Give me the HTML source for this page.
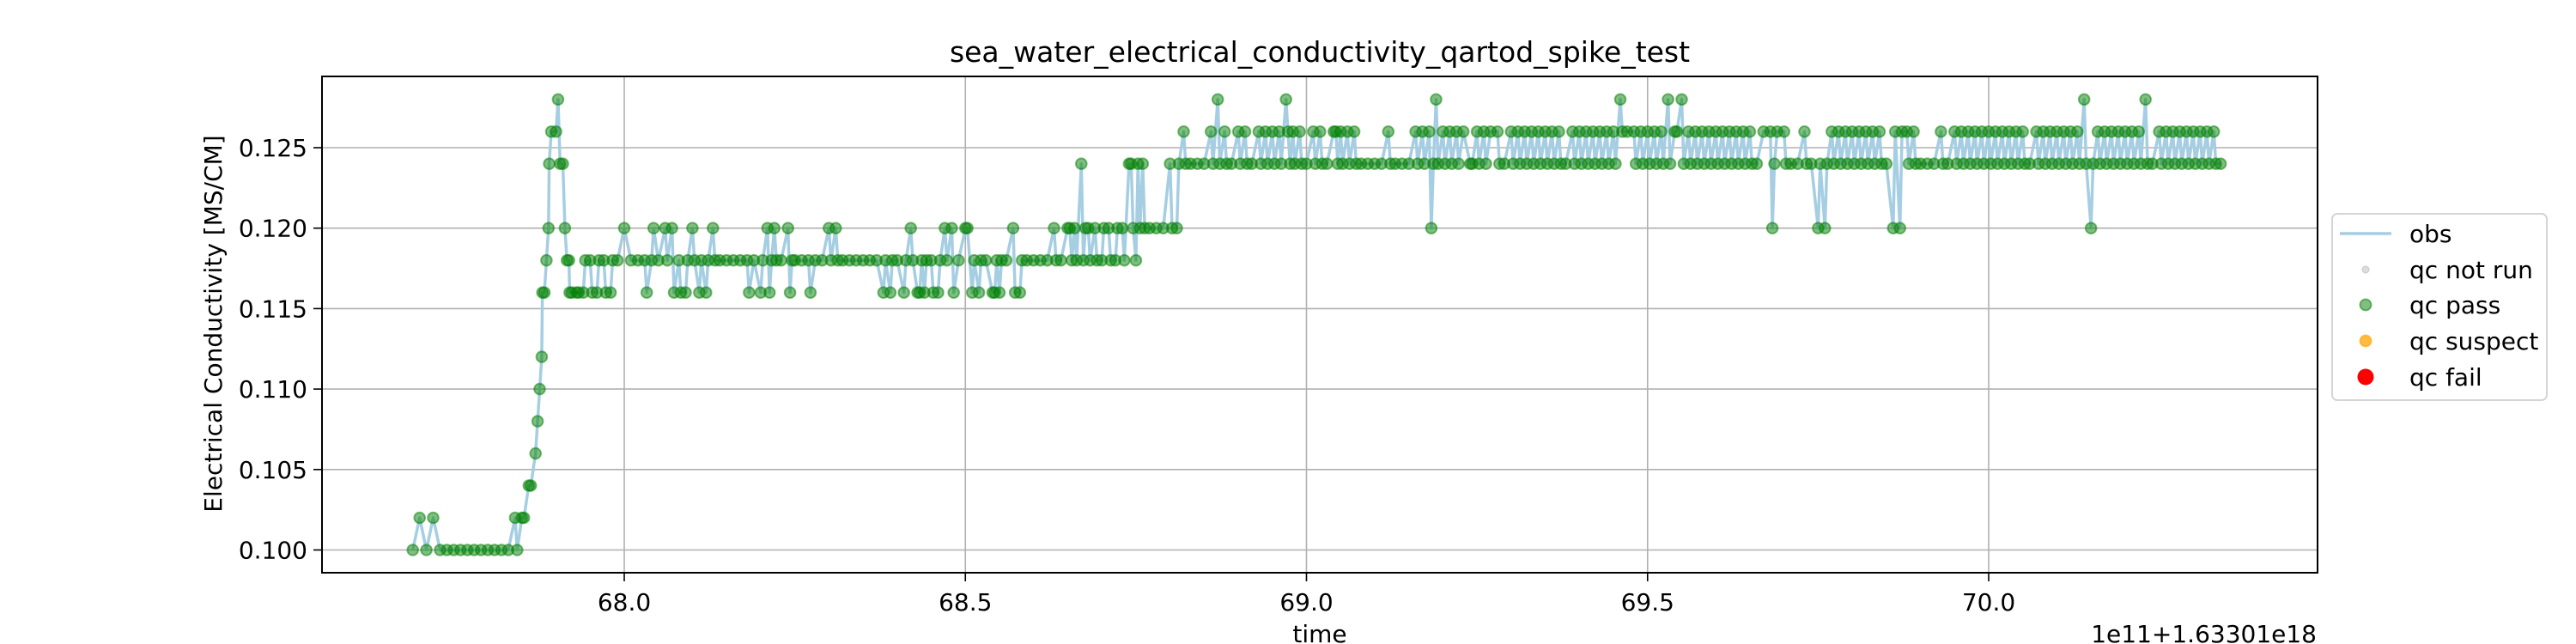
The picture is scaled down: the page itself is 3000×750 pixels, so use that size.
<!DOCTYPE html>
<html><head><meta charset="utf-8"><style>
html,body{margin:0;padding:0;background:#fff;}
svg{display:block;font-family:"DejaVu Sans","Liberation Sans",sans-serif;}
</style></head><body>
<svg id="chart" width="3000" height="750" viewBox="0 0 3000 750" xmlns="http://www.w3.org/2000/svg">
<rect x="0" y="0" width="3000" height="750" fill="#fff"/>
<g id="grid"></g>
<g id="series"></g>
<g id="axes"></g>
<text x="1537" y="72" font-size="33" text-anchor="middle" fill="#000">sea_water_electrical_conductivity_qartod_spike_test</text>
<text x="1537" y="748" font-size="28" text-anchor="middle" fill="#000">time</text>
<text x="2698" y="748" font-size="28" text-anchor="end" fill="#000">1e11+1.63301e18</text>
<text transform="translate(258,377) rotate(-90)" font-size="28" text-anchor="middle" fill="#000">Electrical Conductivity [MS/CM]</text>
<g>
<rect x="2716" y="249" width="250" height="217" rx="6" fill="#fff" fill-opacity="0.8" stroke="#d5d5d5" stroke-width="2"/>
<g><line x1="2725" y1="272" x2="2785" y2="272" stroke="#a6cee3" stroke-width="3.5"/><text x="2806" y="282" font-size="28">obs</text></g>
<g><circle cx="2755" cy="314" r="4" fill="#d3d3d3" fill-opacity="0.8" stroke="#c8c8c8"/><text x="2806" y="324" font-size="28">qc not run</text></g>
<g><circle cx="2755" cy="355" r="6.5" fill="#008000" fill-opacity="0.5" stroke="#008000" stroke-opacity="0.5" stroke-width="2"/><text x="2806" y="365" font-size="28">qc pass</text></g>
<g><circle cx="2755" cy="397" r="6.5" fill="#ffa500" fill-opacity="0.75" stroke="#ffa500" stroke-opacity="0.6" stroke-width="2"/><text x="2806" y="407" font-size="28">qc suspect</text></g>
<g><circle cx="2755" cy="439" r="9.5" fill="#ff0000"/><text x="2806" y="449" font-size="28">qc fail</text></g>
</g>
</svg>
<script>
// ---- data ----
const times = [
67.69,67.70,67.71,67.72,67.73,67.74,67.75,67.76,67.77,67.78,
67.79,67.80,67.81,67.82,67.83,67.84,67.85,67.86,67.87,67.88,
67.89,67.90,67.91,67.92,67.93,67.94,67.95,67.96,67.97,67.98,
67.99,68.00,68.01,68.02,68.03,68.04,68.05,68.06,68.07,68.08,
68.09,68.10,68.11,68.12,68.13,68.14,68.15,68.16,68.17,68.18,
68.19,68.20,68.21,68.22,68.23,68.24,68.25,68.26,68.27,68.28,
68.29,68.30,68.31,68.32,68.33,68.34,68.35,68.36,68.37,68.38,
68.39,68.40,68.41,68.42,68.43,68.44,68.45,68.46,68.47,68.48,
68.49,68.50,68.51,68.52,68.53,68.54,68.55,68.56,68.57,68.58,
68.59,68.60,68.61,68.62,68.63,68.64,68.65,68.66,68.67,68.68,
68.69,68.70,68.71,68.72,68.73,68.74,68.75,68.76,68.77,68.78,
68.79,68.80,68.81,68.82,68.83,68.84,68.85,68.86,68.87,68.88,
68.89,68.90,68.91,68.92,68.93,68.94,68.95,68.96,68.97,68.98,
68.99,69.00,69.01,69.02,69.03,69.04,69.05,69.06,69.07,69.08,
69.09,69.10,69.11,69.12,69.13,69.14,69.15,69.16,69.17,69.18,
69.19,69.20,69.21,69.22,69.23,69.24,69.25,69.26,69.27,69.28,
69.29,69.30,69.31,69.32,69.33,69.34,69.35,69.36,69.37,69.38,
69.39,69.40,69.41,69.42,69.43,69.44,69.45,69.46,69.47,69.48,
69.49,69.50,69.51,69.52,69.53,69.54,69.55,69.56,69.57,69.58,
69.59,69.60,69.61,69.62,69.63,69.64,69.65,69.66,69.67,69.68,
69.69,69.70,69.71,69.72,69.73,69.74,69.75,69.76,69.77,69.78,
69.79,69.80,69.81,69.82,69.83,69.84,69.85,69.86,69.87,69.88,
69.89,69.90,69.91,69.92,69.93,69.94,69.95,69.96,69.97,69.98,
69.99,70.00,70.01,70.02,70.03,70.04,70.05,70.06,70.07,70.08,
70.09,70.10,70.11,70.12,70.13,70.14,70.15,70.16,70.17,70.18,
70.19,70.20,70.21,70.22,70.23,70.24,70.25,70.26,70.27,70.28,
70.29,70.30,70.31,70.32,70.33,70.34,70.35
];
// readings per time bucket (several readings can fall in one bucket)
const values = [
[.100],[.102],[.100],[.102],[.100],[.100],[.100],[.100],[.100],[.100],
[.100],[.100],[.100],[.100],[.100],[.102,.100],[.102,.102],[.104,.104],[.106,.108,.110,.112],[.116,.116,.118,.120],
[.124,.126],[.126,.128,.124],[.124,.120,.118,.118],[.116,.116],[.116,.116],[.116,.118],[.118,.116],[.116,.118],[.118,.116],[.116,.118],
[.118],[.120],[.118],[.118],[.118,.116],[.118,.120],[.118],[.120,.118],[.120,.116],[.118,.116],
[.116,.118],[.120,.118],[.116,.118],[.116,.118],[.120,.118],[.118],[.118],[.118],[.118],[.118,.116],
[.118],[.116,.118],[.120,.116,.118],[.120,.118],[.118],[.120,.116,.118],[.118],[.118],[.118,.116],[.118],
[.118],[.120,.118],[.120,.118],[.118],[.118],[.118],[.118],[.118],[.118],[.116,.118],
[.116,.118],[.118],[.116,.118],[.120,.118],[.116,.116,.118],[.116,.118],[.118,.116],[.116,.118],[.120,.118],[.120,.116],
[.118],[.120,.120],[.116,.118],[.116,.118],[.118],[.116,.116,.118],[.116,.118],[.118],[.120,.116],[.116,.118],
[.118],[.118],[.118],[.118],[.120,.118],[.118],[.120,.120,.118],[.120,.118],[.124,.118,.120],[.120,.118],
[.120,.118],[.118,.120],[.120,.118],[.118,.120],[.120,.118],[.124,.124,.120],[.118,.124,.120],[.124,.120],[.120],[.120],
[.120],[.124,.120],[.120,.124],[.126,.124],[.124],[.124],[.124],[.126,.124],[.128,.124],[.126,.124],
[.124],[.126,.124],[.126,.124],[.124],[.126,.124],[.126,.124],[.126,.124],[.126,.124],[.128,.126,.124],[.126,.124],
[.126,.124],[.124],[.126,.124],[.126,.124],[.124],[.126,.126,.124],[.126,.124],[.126,.124],[.126,.124],[.124],
[.124],[.124],[.124],[.126,.124],[.124],[.124],[.124],[.126,.124],[.126,.124],[.126,.120,.124],
[.128,.124],[.126,.124],[.126,.124],[.126,.124],[.126],[.124,.124],[.126,.124],[.126,.124],[.126],[.126,.124],
[.124],[.126,.124],[.126,.124],[.126,.124],[.126,.124],[.126,.124],[.126,.124],[.126,.124],[.126,.124],[.124],
[.126,.124],[.126,.124],[.126,.124],[.126,.124],[.126,.124],[.126,.124],[.126,.124],[.128,.126],[.126],[.126,.124],
[.126,.124],[.126,.124],[.126,.124],[.126,.124],[.128,.124],[.126,.126],[.128,.124],[.126,.124],[.126,.124],[.126,.124],
[.126,.124],[.126,.124],[.126,.124],[.126,.124],[.126,.124],[.126,.124],[.126,.124],[.124],[.126],[.126,.120,.124],
[.126],[.126,.124],[.124],[.124],[.126,.124],[.124],[.120,.124],[.120,.124],[.126,.124],[.126,.124],
[.126,.124],[.126,.124],[.126,.124],[.126,.124],[.126,.124],[.126,.124],[.124],[.120,.126],[.120,.126],[.126,.124],
[.126,.124],[.124],[.124],[.124],[.126,.124],[.124],[.126,.124],[.126,.124],[.126,.124],[.126,.124],
[.126,.124],[.126,.124],[.126,.124],[.126,.124],[.126,.124],[.126,.124],[.126,.124],[.124],[.126,.124],[.126,.124],
[.126,.124],[.126,.124],[.126,.124],[.126,.124],[.126,.124],[.128,.124],[.120,.124],[.126,.124],[.126,.124],[.126,.124],
[.126,.124],[.126,.124],[.126,.124],[.126,.124],[.128,.124],[.124],[.126,.124],[.126,.124],[.126,.124],[.126,.124],
[.126,.124],[.126,.124],[.126,.124],[.126,.124],[.126,.124],[.124]
];
const xTicks = [68.0, 68.5, 69.0, 69.5, 70.0];
const xTickLabels = ["68.0","68.5","69.0","69.5","70.0"];
const yTicks = [0.100, 0.105, 0.110, 0.115, 0.120, 0.125];
const yTickLabels = ["0.100","0.105","0.110","0.115","0.120","0.125"];

// ---- layout ----
const L = 375, R = 2699, T = 89, B = 667;
const xScale = t => 727 + (t - 68.0) * 794.5;
const yScale = v => 640.5 - (v - 0.100) * 18740;
const NS = "http://www.w3.org/2000/svg";
function mk(tag, attrs, parent) {
  const el = document.createElementNS(NS, tag);
  for (const k in attrs) el.setAttribute(k, attrs[k]);
  parent.appendChild(el);
  return el;
}
const grid = document.getElementById('grid');
const series = document.getElementById('series');
const axes = document.getElementById('axes');

xTicks.forEach((t, i) => {
  const x = xScale(t);
  const g = mk('line', {x1: x, y1: T, x2: x, y2: B, stroke: '#b0b0b0', 'stroke-width': 1.6}, grid);
  
  
  const tk = mk('line', {x1: x, y1: B, x2: x, y2: B + 10, stroke: '#000', 'stroke-width': 1.6}, axes);
  
  
  const lb = mk('text', {x: x, y: B + 44, 'font-size': 28, 'text-anchor': 'middle', fill: '#000'}, axes);
  lb.textContent = xTickLabels[i];
  
  
});
yTicks.forEach((v, i) => {
  const y = yScale(v);
  const g = mk('line', {x1: L, y1: y, x2: R, y2: y, stroke: '#b0b0b0', 'stroke-width': 1.6}, grid);
  
  
  const tk = mk('line', {x1: L - 10, y1: y, x2: L, y2: y, stroke: '#000', 'stroke-width': 1.6}, axes);
  
  
  const lb = mk('text', {x: L - 17, y: y + 10, 'font-size': 28, 'text-anchor': 'end', fill: '#000'}, axes);
  lb.textContent = yTickLabels[i];
  
  
});
const frame = mk('rect', {x: L, y: T, width: R - L, height: B - T, fill: 'none', stroke: '#000', 'stroke-width': 2}, axes);



// flatten readings
const pts = [];
times.forEach((t, i) => {
  const vs = values[i] || [];
  vs.forEach((v, j) => pts.push([xScale(t + j * 0.003), yScale(v)]));
});
const line = mk('polyline', {points: pts.map(p => p[0].toFixed(1) + ',' + p[1].toFixed(1)).join(' '), fill: 'none', stroke: '#a6cee3', 'stroke-width': 3.5, 'stroke-linejoin': 'round'}, series);


pts.forEach(p => {
  const c = mk('circle', {cx: p[0].toFixed(1), cy: p[1].toFixed(1), r: 6.3, fill: '#008000', 'fill-opacity': 0.5, stroke: '#008000', 'stroke-opacity': 0.5, 'stroke-width': 2}, series);
  
  
});
</script>
</body></html>
